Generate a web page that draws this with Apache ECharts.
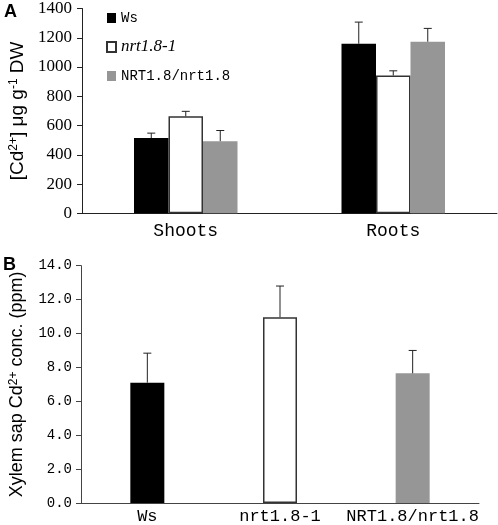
<!DOCTYPE html>
<html><head><meta charset="utf-8">
<script src="https://cdn.jsdelivr.net/npm/echarts@6/dist/echarts.min.js"></script>
<style>html,body{margin:0;padding:0;background:#fff}#c{width:498px;height:525px}</style>
</head><body><div id="c"></div>
<script>
// Panel A data
const organs = ['Shoots', 'Roots'];
const genotypesA = ['Ws', 'nrt1.8-1', 'NRT1.8/nrt1.8'];
const wsA = [514, 1159];
const wsAErr = [34, 148];
const nrtA = [663, 942];
const nrtAErr = [34, 32];
const compA = [493, 1173];
const compAErr = [73, 91];
const ticksA = [0, 200, 400, 600, 800, 1000, 1200, 1400];

// Panel B data
const genotypesB = ['Ws', 'nrt1.8-1', 'NRT1.8/nrt1.8'];
const sapB = [7.1, 10.96, 7.65];
const sapBErr = [1.74, 1.84, 1.35];
const ticksB = [0, 2, 4, 6, 8, 10, 12, 14];

const chart = echarts.init(document.getElementById('c'), null, {renderer: 'canvas'});
const BW = 34.5;
const serif = '"Liberation Serif"';
const mono = '"Liberation Mono"';
const sans = '"Liberation Sans"';

function errSeries(xAxisIndex, yAxisIndex, vals, errs, offsetIndex, nInGroup) {
  return {
    type: 'custom', xAxisIndex, yAxisIndex, z: 5, silent: true,
    data: vals.map((v, i) => [i, v, v + errs[i]]),
    renderItem: function (params, api) {
      const c0 = api.coord([api.value(0), api.value(1)]);
      const c1 = api.coord([api.value(0), api.value(2)]);
      const x = c0[0] + (offsetIndex - (nInGroup - 1) / 2) * BW;
      const st = {stroke: '#222', lineWidth: 1};
      return {type: 'group', children: [
        {type: 'line', shape: {x1: x, y1: c0[1], x2: x, y2: c1[1]}, style: st},
        {type: 'line', shape: {x1: x - 4, y1: c1[1], x2: x + 4, y2: c1[1]}, style: st}
      ]};
    }
  };
}

const option = {
  animation: false,
  backgroundColor: '#fff',
  graphic: [
    {type: 'text', left: 4, top: 3, style: {text: 'A', font: 'bold 18px "Liberation Sans"', fill: '#000'}},
    {type: 'text', left: 3, top: 256, style: {text: 'B', font: 'bold 18px "Liberation Sans"', fill: '#000'}}
  ],
  legend: {
    orient: 'vertical', left: 101, top: 4, itemWidth: 9, itemHeight: 10, itemGap: 11,
    icon: 'rect',
    data: genotypesA,
    formatter: function (n) { return n === 'nrt1.8-1' ? '{i|' + n + '}' : n; },
    textStyle: {fontFamily: mono, fontSize: 14, color: '#000', lineHeight: 18,
      rich: {i: {fontFamily: serif, fontStyle: 'italic', fontSize: 17, color: '#000', lineHeight: 18}}}
  },
  grid: [
    {left: 77, right: 1, top: 7.3, bottom: 311.7},
    {left: 77, right: 19, top: 265.7, bottom: 21}
  ],
  xAxis: [
    {type: 'category', gridIndex: 0, data: organs,
      axisLine: {lineStyle: {color: '#222'}}, axisTick: {show: false},
      axisLabel: {fontFamily: mono, fontSize: 18, color: '#000', margin: 9, interval: 0}},
    {type: 'category', gridIndex: 1, data: genotypesB,
      axisLine: {lineStyle: {color: '#444'}}, axisTick: {show: false},
      axisLabel: {fontFamily: mono, fontSize: 17, color: '#000', margin: 5, interval: 0}}
  ],
  yAxis: [
    {type: 'value', gridIndex: 0, min: ticksA[0], max: ticksA[ticksA.length - 1], interval: 200,
      splitLine: {show: false},
      axisLine: {show: true, lineStyle: {color: '#222'}},
      axisTick: {show: true, length: 5, lineStyle: {color: '#222'}},
      axisLabel: {fontFamily: serif, fontSize: 17, color: '#000', margin: 10,
        formatter: v => String(v)},
      name: '[Cd{sup|2+}] μg g{sup|-1} DW', nameLocation: 'middle', nameGap: 55, nameRotate: 90,
      nameTextStyle: {fontFamily: sans, fontSize: 19, color: '#000',
        rich: {sup: {fontSize: 12, verticalAlign: 'top', fontFamily: sans, color: '#000'}}}},
    {type: 'value', gridIndex: 1, min: ticksB[0], max: ticksB[ticksB.length - 1], interval: 2,
      splitLine: {show: false},
      axisLine: {show: true, lineStyle: {color: '#444'}},
      axisTick: {show: true, length: 5, lineStyle: {color: '#444'}},
      axisLabel: {fontFamily: mono, fontSize: 14, color: '#000', margin: 9,
        formatter: v => v.toFixed(1)},
      name: 'Xylem sap Cd{sup|2+} conc. (ppm)', nameLocation: 'middle', nameGap: 55, nameRotate: 90,
      nameTextStyle: {fontFamily: sans, fontSize: 18, color: '#000',
        rich: {sup: {fontSize: 12, verticalAlign: 'top', fontFamily: sans, color: '#000'}}}}
  ],
  series: [
    {name: 'Ws', type: 'bar', xAxisIndex: 0, yAxisIndex: 0, data: wsA, barWidth: BW, barGap: '0%',
      itemStyle: {color: '#000'}},
    {name: 'nrt1.8-1', type: 'bar', xAxisIndex: 0, yAxisIndex: 0, data: nrtA, barWidth: BW, barGap: '0%',
      itemStyle: {color: '#fff', borderColor: '#333', borderWidth: 1.5}},
    {name: 'NRT1.8/nrt1.8', type: 'bar', xAxisIndex: 0, yAxisIndex: 0, data: compA, barWidth: BW, barGap: '0%',
      itemStyle: {color: '#969696'}},
    errSeries(0, 0, wsA, wsAErr, 0, 3),
    errSeries(0, 0, nrtA, nrtAErr, 1, 3),
    errSeries(0, 0, compA, compAErr, 2, 3),
    {type: 'bar', xAxisIndex: 1, yAxisIndex: 1, barWidth: 34,
      data: [
        {value: sapB[0], itemStyle: {color: '#000'}},
        {value: sapB[1], itemStyle: {color: '#fff', borderColor: '#333', borderWidth: 1.5}},
        {value: sapB[2], itemStyle: {color: '#969696'}}
      ]},
    errSeries(1, 1, sapB, sapBErr, 0, 1)
  ]
};
chart.setOption(option);
</script>
</body></html>
